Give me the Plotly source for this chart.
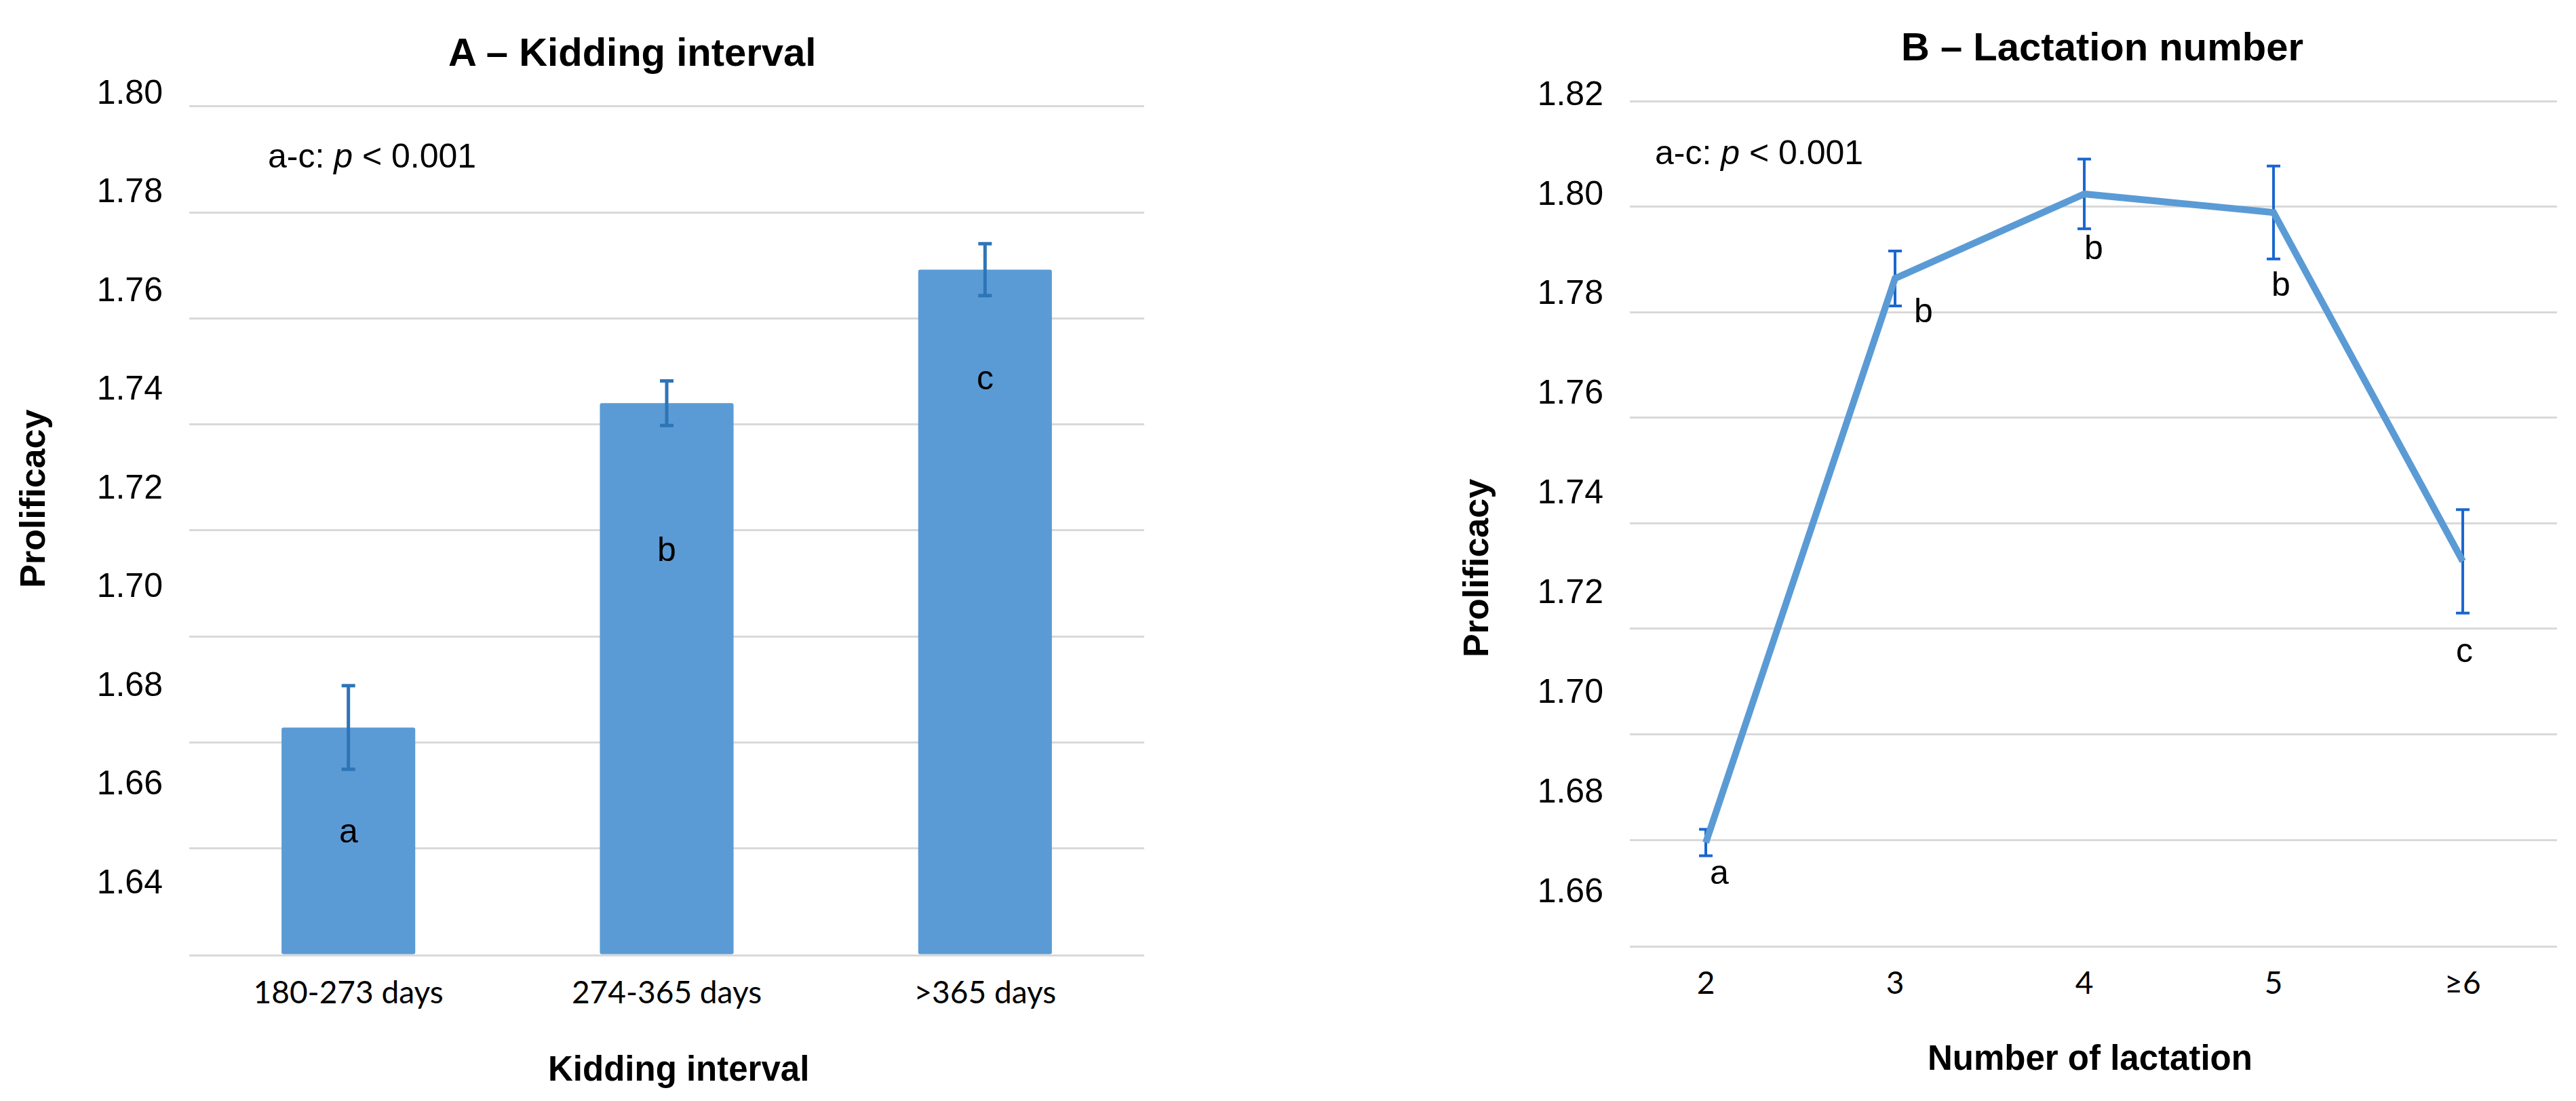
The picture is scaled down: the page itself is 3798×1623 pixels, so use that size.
import plotly.graph_objects as go

W, H = 3798, 1623

# ---------------- data ----------------
# Panel A - kidding interval
kid_categories = ["180-273 days", "274-365 days", ">365 days"]
kid_values = [1.6828, 1.7440, 1.7692]
kid_errors = [0.0079, 0.0042, 0.0049]
kid_letters = ["a", "b", "c"]
kid_letter_y = [1.6632, 1.7164, 1.7488]

# Panel B - lactation number
lac_categories = ["2", "3", "4", "5", "≥6"]
lac_values = [1.6795, 1.7864, 1.8024, 1.7989, 1.7328]
lac_errors = [0.0025, 0.0052, 0.0066, 0.0088, 0.0098]
lac_letters = ["a", "b", "b", "b", "c"]
lac_letter_x = [0.07, 1.15, 2.05, 3.04, 4.01]
lac_letter_y = [1.6739, 1.7803, 1.7922, 1.7853, 1.7159]

a_ticks = [1.64, 1.66, 1.68, 1.70, 1.72, 1.74, 1.76, 1.78, 1.80]
b_ticks = [1.66, 1.68, 1.70, 1.72, 1.74, 1.76, 1.78, 1.80, 1.82]

ARIAL = "Liberation Sans, Arial, sans-serif"
CALIBRI = "Lato, Carlito, Calibri, sans-serif"
BLUE = "#5B9BD5"
GRID = "#D9D9D9"

fig = go.Figure()

fig.add_trace(go.Bar(
    x=list(range(len(kid_categories))), y=[v - 1.64 for v in kid_values], base=1.64,
    width=0.42, marker=dict(color=BLUE, line=dict(width=0), cornerradius=3),
    error_y=dict(type="data", array=kid_errors, color="#2E75B6", thickness=5, width=10),
    xaxis="x", yaxis="y", showlegend=False, hoverinfo="skip"))

fig.add_trace(go.Scatter(
    x=list(range(len(lac_categories))), y=lac_values, mode="lines",
    line=dict(color=BLUE, width=10),
    error_y=dict(type="data", array=lac_errors, color="#1A66CF", thickness=4, width=10),
    xaxis="x2", yaxis="y2", showlegend=False, hoverinfo="skip"))

# empty traces so the label axes exist
fig.add_trace(go.Scatter(x=[], y=[], xaxis="x", yaxis="y3", showlegend=False, hoverinfo="skip"))
fig.add_trace(go.Scatter(x=[], y=[], xaxis="x2", yaxis="y4", showlegend=False, hoverinfo="skip"))

def px(x):
    return x / W

def py(y):
    return 1 - y / H

A_dom_x = [px(271), px(1679)]
A_dom_y = [py(1397), py(100)]
B_dom_x = [px(2395), px(3762)]
B_dom_y = [py(1384), py(95)]

grid_axis = dict(showgrid=True, gridcolor=GRID, gridwidth=3, showticklabels=False,
                 ticks="", showline=False, zeroline=False, tickmode="array")
label_axis = dict(showgrid=False, zeroline=False, ticks="", showline=False,
                  tickmode="array", tickfont=dict(family=ARIAL, size=50, color="#000000"),
                  ticklabelstandoff=38, side="left")

fig.update_layout(
    width=W, height=H, margin=dict(l=0, r=0, t=0, b=0),
    paper_bgcolor="white", plot_bgcolor="white",
    xaxis=dict(domain=A_dom_x, range=[-0.5, 2.5], tickmode="array",
               tickvals=list(range(len(kid_categories))), ticktext=kid_categories,
               showgrid=False, zeroline=False, ticks="", showline=True,
               linecolor=GRID, linewidth=3, anchor="y",
               tickfont=dict(family=CALIBRI, size=46, color="#000000"),
               ticklabelstandoff=14),
    yaxis=dict(domain=A_dom_y, range=[1.64, 1.804829], tickvals=a_ticks, anchor="x", **grid_axis),
    yaxis3=dict(range=[1.625265, 1.802179], tickvals=a_ticks,
                ticktext=[f"{t:.2f}" for t in a_ticks], overlaying="y", anchor="x", **label_axis),
    xaxis2=dict(domain=B_dom_x, range=[-0.4014, 4.498], tickmode="array",
                tickvals=list(range(len(lac_categories))), ticktext=lac_categories,
                showgrid=False, zeroline=False, ticks="", showline=True,
                linecolor=GRID, linewidth=3, anchor="y2",
                tickfont=dict(family=CALIBRI, size=46, color="#000000"),
                ticklabelstandoff=13),
    yaxis2=dict(domain=B_dom_y, range=[1.66, 1.824466], tickvals=b_ticks, anchor="x2", **grid_axis),
    yaxis4=dict(range=[1.648921, 1.823110], tickvals=b_ticks,
                ticktext=[f"{t:.2f}" for t in b_ticks], overlaying="y2", anchor="x2", **label_axis),
)

ann = []
# titles
ann.append(dict(text="<b>A – Kidding interval</b>", x=px(924), y=py(57), xref="paper", yref="paper",
                xanchor="center", yanchor="middle", showarrow=False,
                font=dict(family=ARIAL, size=58, color="#000000")))
ann.append(dict(text="<b>B – Lactation number</b>", x=px(3091), y=py(49), xref="paper", yref="paper",
                xanchor="center", yanchor="middle", showarrow=False,
                font=dict(family=ARIAL, size=58, color="#000000")))
# p-value notes
for xx, yy in [(385, 212), (2430, 207)]:
    ann.append(dict(text="a-c: <i>p</i> < 0.001", x=px(xx), y=py(yy), xref="paper", yref="paper",
                    xanchor="left", yanchor="middle", showarrow=False,
                    font=dict(family=ARIAL, size=50, color="#000000")))
# axis titles
ann.append(dict(text="<b>Kidding interval</b>", x=px(992), y=py(1567), xref="paper", yref="paper",
                xanchor="center", yanchor="middle", showarrow=False,
                font=dict(family=ARIAL, size=51, color="#000000")))
ann.append(dict(text="<b>Number of lactation</b>", x=px(3073), y=py(1551), xref="paper", yref="paper",
                xanchor="center", yanchor="middle", showarrow=False,
                font=dict(family=ARIAL, size=51, color="#000000")))
for xx, yy in [(40, 721), (2168, 824)]:
    ann.append(dict(text="<b>Prolificacy</b>", x=px(xx), y=py(yy), xref="paper", yref="paper",
                    xanchor="center", yanchor="middle", textangle=-90, showarrow=False,
                    font=dict(family=ARIAL, size=52, color="#000000")))
# significance letters
for i, (lt, ly) in enumerate(zip(kid_letters, kid_letter_y)):
    ann.append(dict(text=lt, x=i, y=ly, xref="x", yref="y", showarrow=False,
                    xanchor="center", yanchor="middle",
                    font=dict(family=ARIAL, size=50, color="#000000")))
for lt, lx, ly in zip(lac_letters, lac_letter_x, lac_letter_y):
    ann.append(dict(text=lt, x=lx, y=ly, xref="x2", yref="y2", showarrow=False,
                    xanchor="center", yanchor="middle",
                    font=dict(family=ARIAL, size=50, color="#000000")))

fig.update_layout(annotations=ann)
fig.write_html("out.html")
